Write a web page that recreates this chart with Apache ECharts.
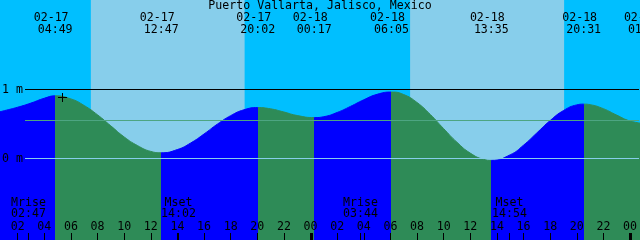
<!DOCTYPE html>
<html><head><meta charset="utf-8">
<script src="https://cdn.jsdelivr.net/npm/echarts@6/dist/echarts.min.js"></script>
<style>html,body{margin:0;padding:0;background:#00BFFF}#c{width:640px;height:240px}</style>
</head><body><div id="c"></div>
<script>
// Hours counted from 02-17 00:00 local time
const tideHours   = [0, 1, 2, 3, 4, 4.817, 6, 7, 8, 9, 10, 11, 12, 12.783, 14, 15, 16, 17, 18, 19, 20.033, 21, 22, 23, 24.283, 25, 26, 27, 28, 29, 30.083, 31, 32, 33, 34, 35, 36, 37, 37.583, 39, 40, 41, 42, 43, 44, 44.517, 45, 46, 47, 48, 49.15];
const tideHeights = [0.64, 0.69, 0.74, 0.80, 0.87, 0.905, 0.861, 0.765, 0.63, 0.47, 0.31, 0.185, 0.10, 0.08, 0.127, 0.222, 0.352, 0.495, 0.618, 0.703, 0.735, 0.717, 0.671, 0.620, 0.59, 0.603, 0.664, 0.752, 0.848, 0.927, 0.96, 0.924, 0.809, 0.635, 0.430, 0.233, 0.075, -0.015, -0.03, 0.051, 0.190, 0.368, 0.547, 0.692, 0.774, 0.785, 0.777, 0.719, 0.626, 0.541, 0.50];

const eventHours = [4.817, 12.783, 20.033, 24.283, 30.083, 37.583, 44.517, 49.15];
const eventKinds = ['H', 'L', 'H', 'L', 'H', 'L', 'H', 'L'];
const eventDates = ['02-17', '02-17', '02-17', '02-18', '02-18', '02-18', '02-18', '02-19'];
const eventTimes = ['04:49', '12:47', '20:02', '00:17', '06:05', '13:35', '20:31', '01:09'];

const sunriseHours = [7.5, 31.48];
const sunsetHours  = [19.05, 43.05];

const moonHours  = [2.783, 14.033, 27.733, 38.9];
const moonNames  = ['Mrise', 'Mset', 'Mrise', 'Mset'];
const moonTimes  = ['02:47', '14:02', '03:44', '14:54'];

const tickHours = [2, 4, 6, 8, 10, 12, 14, 16, 18, 20, 22, 24, 26, 28, 30, 32, 34, 36, 38, 40, 42, 44, 46, 48];
const midnightHours = [24, 48];

const refLevels = [1, 0.55, 0];
const refLabels = ['1 m', '', '0 m'];

const nowMark = [5.33, 0.895];

const title = 'Puerto Vallarta, Jalisco, Mexico';

// ---- styles
const FONT = '11.6px "DejaVu Sans Mono"';
const C_NIGHT = '#00BFFF', C_DAY = '#87CEEB', C_RISE = '#0000FF', C_FALL = '#2E8B57';
const refColors = ['#000000', '#4DA582', '#87CEEB'];

const chart = echarts.init(document.getElementById('c'), null, {renderer: 'canvas'});

const pieces = [];
let prev = null;
eventHours.forEach((h, i) => {
  const color = eventKinds[i] === 'H' ? C_RISE : C_FALL;
  if (prev === null) pieces.push({lt: h, color});
  else pieces.push({gte: prev, lt: h, color});
  prev = h;
});
pieces.push({gte: prev, color: eventKinds[eventKinds.length - 1] === 'H' ? C_FALL : C_RISE});

chart.setOption({
  backgroundColor: C_NIGHT,
  animation: false,
  title: {
    text: title, left: 'center', top: 0, padding: 0,
    textStyle: {fontFamily: 'DejaVu Sans Mono', fontSize: 11.6, fontWeight: 'normal', color: '#000'}
  },
  grid: {left: 0, right: 0, top: 0, bottom: 0, containLabel: false},
  xAxis: {
    type: 'value', min: 0.675, max: 48.675, z: 10, position: 'bottom',
    axisLine: {show: false, onZero: false},
    splitLine: {show: false},
    axisTick: {show: true, inside: true, length: 7, customValues: tickHours, lineStyle: {color: '#000', width: 1}},
    axisLabel: {
      inside: true, margin: 7, color: '#000', fontFamily: 'DejaVu Sans Mono', fontSize: 11.6,
      customValues: tickHours,
      formatter: v => String(Math.round(v) % 24).padStart(2, '0')
    }
  },
  yAxis: {
    type: 'value', min: -1.184, max: 2.294, show: false
  },
  visualMap: {
    type: 'piecewise', show: false, dimension: 0, seriesIndex: 1, pieces
  },
  series: [
    {
      type: 'custom', z: 1, silent: true,
      data: sunriseHours.map((s, i) => [s, sunsetHours[i]]),
      renderItem(params, api) {
        const cs = params.coordSys;
        const x0 = api.coord([api.value(0), 0])[0];
        const x1 = api.coord([api.value(1), 0])[0];
        return {type: 'rect', shape: {x: x0, y: cs.y, width: x1 - x0, height: cs.height}, style: {fill: C_DAY}};
      }
    },
    {
      type: 'line', z: 2, silent: true,
      data: tideHours.map((h, i) => [h, tideHeights[i]]),
      showSymbol: false, smooth: true,
      lineStyle: {width: 1},
      areaStyle: {opacity: 1, origin: 'start'}
    },
    {
      type: 'custom', z: 3, silent: true,
      data: refLevels.map((v, i) => [1, v, i]),
      renderItem(params, api) {
        const cs = params.coordSys;
        const i = params.dataIndex;
        const y = Math.round(api.coord([1, api.value(1)])[1]) + 0.5;
        return {type: 'group', children: [
          {type: 'line', shape: {x1: 25, y1: y, x2: cs.x + cs.width, y2: y}, style: {stroke: refColors[i], lineWidth: 1}},
          {type: 'text', x: 2, y: y, style: {text: refLabels[i], font: FONT, fill: '#000', align: 'left', verticalAlign: 'middle'}}
        ]};
      }
    },
    {
      type: 'custom', z: 4, silent: true,
      data: eventHours.map((h, i) => [h, 0, i]),
      renderItem(params, api) {
        const i = params.dataIndex;
        const x = api.coord([api.value(0), 0])[0];
        return {type: 'group', children: [
          {type: 'text', x: x - 4, y: 17.5, style: {text: eventDates[i], font: FONT, fill: '#000', align: 'center', verticalAlign: 'middle'}},
          {type: 'text', x: x, y: 30, style: {text: eventTimes[i], font: FONT, fill: '#000', align: 'center', verticalAlign: 'middle'}}
        ]};
      }
    },
    {
      type: 'custom', z: 4, silent: true,
      data: moonHours.map((h, i) => [h, 0, i]),
      renderItem(params, api) {
        const cs = params.coordSys;
        const i = params.dataIndex;
        const x = Math.round(api.coord([api.value(0), 0])[0]) + 0.5;
        const yb = cs.y + cs.height;
        return {type: 'group', children: [
          {type: 'line', shape: {x1: x, y1: yb - 7, x2: x, y2: yb}, style: {stroke: '#000', lineWidth: 1}},
          {type: 'text', x: x, y: 202.5, style: {text: moonNames[i], font: FONT, fill: '#000', align: 'center', verticalAlign: 'middle'}},
          {type: 'text', x: x, y: 213.5, style: {text: moonTimes[i], font: FONT, fill: '#000', align: 'center', verticalAlign: 'middle'}}
        ]};
      }
    },
    {
      type: 'custom', z: 4, silent: true,
      data: midnightHours.map(h => [h, 0]),
      renderItem(params, api) {
        const cs = params.coordSys;
        const x = Math.round(api.coord([api.value(0), 0])[0]);
        const yb = cs.y + cs.height;
        return {type: 'rect', shape: {x: x - 1, y: yb - 7, width: 3, height: 7}, style: {fill: '#000'}};
      }
    },
    {
      type: 'custom', z: 5, silent: true,
      data: [nowMark],
      renderItem(params, api) {
        const p = api.coord([api.value(0), api.value(1)]);
        const x = Math.round(p[0]) + 0.5, y = Math.round(p[1]) + 0.5;
        return {type: 'group', children: [
          {type: 'line', shape: {x1: x - 4.5, y1: y, x2: x + 4.5, y2: y}, style: {stroke: '#000', lineWidth: 1}},
          {type: 'line', shape: {x1: x, y1: y - 4.5, x2: x, y2: y + 4.5}, style: {stroke: '#000', lineWidth: 1}}
        ]};
      }
    }
  ]
});
</script></body></html>
